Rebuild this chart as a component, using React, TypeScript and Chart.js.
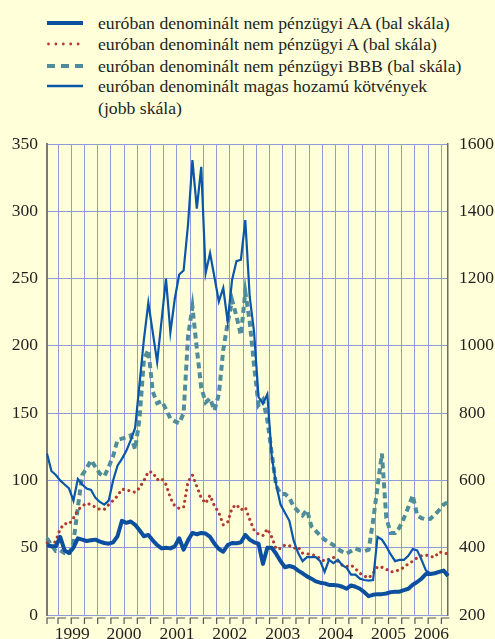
import React, { useEffect, useRef } from 'react';
import { Chart, registerables } from 'chart.js';

Chart.register(...registerables);

// Month categories: Jan 1999 – Aug 2006
const months: string[] = [];
for (let y = 1999; y <= 2006; y++) {
  for (let m = 1; m <= 12; m++) {
    if (y === 2006 && m > 8) break;
    months.push(`${y}-${String(m).padStart(2, '0')}`);
  }
}

const yearLabels = ['1999', '2000', '2001', '2002', '2003', '2004', '2005', '2006'];
const leftTicks = [0, 50, 100, 150, 200, 250, 300, 350];
const rightTicks = [200, 400, 600, 800, 1000, 1200, 1400, 1600];

// euróban denominált nem pénzügyi AA (bal skála)
const aaSpread = [
  52, 51, 51, 58, 48, 46, 50, 57, 56, 55, 55.5, 56,
  54.5, 53.5, 53, 54, 58.5, 70, 68.5, 69.5, 67, 63, 58.5, 59.5,
  55.5, 52, 49.5, 50, 49.5, 51, 57, 48.5, 55.5, 61, 60, 61,
  60.5, 58, 53, 49, 47, 52, 53.5, 53.3, 54, 59.5, 56, 54,
  53, 38, 50, 50, 45.5, 40, 35.5, 36.4, 35.5, 33, 31, 28.7,
  27, 25, 24, 23.5, 22.3, 22.3, 22, 21, 19.5, 22, 21, 19.5,
  17, 14, 15, 15.5, 15.5, 16, 17, 17.3, 17.3, 18.5, 19.5, 22.5,
  24.5, 27, 30.5, 30.5, 31, 32, 33, 29,
];

// euróban denominált nem pénzügyi A (bal skála)
const aSpread = [
  53.7, 51, 55, 64, 68, 67.5, 72, 78, 81, 83, 82, 80,
  78.5, 78.5, 82, 85, 88.5, 93.5, 93, 92, 91.2, 94.5, 100, 106.5,
  106, 100.5, 101.5, 97, 87, 81, 79.3, 80, 99, 104, 95.5, 87,
  83, 89, 81, 76, 67, 69, 79.5, 82, 78, 80, 71, 63,
  60, 59, 64, 58, 49, 49.5, 52, 51.5, 49.5, 50.5, 46, 45.5,
  45, 44, 42, 40, 41.5, 42.8, 40, 37, 36, 37, 34.5, 31,
  29, 27.5, 31, 35.9, 35.5, 34, 32, 32.5, 33.5, 35.5, 38, 40,
  42.5, 44, 44.5, 43.5, 43, 47, 46, 45.5,
];

// euróban denominált nem pénzügyi BBB (bal skála)
const bbbSpread = [
  57, 52, 47.5, 48, 46, 45, 54, 80, 104, 109, 115, 110,
  105, 103, 110, 118, 130, 131, 132, 133.5, 123, 146, 190, 197,
  166, 157.5, 159, 153, 146, 144, 142.5, 150, 207, 229, 198, 169,
  158, 161, 152, 164, 197, 217, 234, 222, 208, 240, 218, 185,
  156, 160, 145, 120, 96, 90, 90, 87, 80.5, 77, 74, 78,
  66, 62.5, 59, 56, 54, 52, 49, 47, 45.5, 47.5, 49.5, 48,
  47.5, 48.5, 70, 95, 120, 72, 61, 61, 65, 72, 80, 89,
  74, 72, 71, 71.5, 74.5, 78, 82, 84,
];

// euróban denominált magas hozamú kötvények (jobb skála)
const highYield = [
  680, 628, 616, 600, 588, 576, 540, 604, 588, 576, 572, 548,
  536, 528, 540, 600, 644, 664, 688, 720, 756, 888, 1020, 1128,
  1040, 952, 1076, 1200, 1040, 1140, 1212, 1224, 1360, 1552, 1408, 1532,
  1216, 1276, 1204, 1132, 1172, 1072, 1196, 1252, 1256, 1374, 1146, 1040,
  848, 828, 856, 672, 588, 528, 504, 480, 420, 384, 360, 372,
  372, 372, 360, 328, 364, 354, 364, 348, 340, 320, 320, 308,
  304, 302, 304, 432, 424, 404, 380, 360, 364, 364, 376, 396,
  392, 364, 332, 324, 324, 328, 332, 320,
];

const legendItems = [
  'euróban denominált nem pénzügyi AA (bal skála)',
  'euróban denominált nem pénzügyi A (bal skála)',
  'euróban denominált nem pénzügyi BBB (bal skála)',
  'euróban denominált magas hozamú kötvények',
  '(jobb skála)',
];

const BG = '#FFFFDA';
const GRID = '#8e9cdc';
const TEXT = '#231f20';
const AA_COLOR = '#0b4f9e';
const HY_COLOR = '#0a56a8';
const A_COLOR = '#b23a33';
const BBB_COLOR = '#4f8c9c';
const FONT_FAMILY = '"Liberation Serif", Tinos, "Times New Roman", Times, "Noto Serif", "DejaVu Serif", serif';

export default function App() {
  const ref = useRef<HTMLCanvasElement>(null);

  useEffect(() => {
    if (!ref.current) return;
    const last = months.length - 1;
    const yearCenters = yearLabels.map((y) => {
      const idx = months.map((m, i) => (m.startsWith(y) ? i : -1)).filter((i) => i >= 0);
      const lo = Math.max(idx[0] - 0.5, 0);
      const hi = Math.min(idx[idx.length - 1] + 0.5, last);
      return (lo + hi) / 2;
    });
    const quarterTicks = months
      .map((_, i) => i)
      .filter((i) => i > 0 && i % 3 === 0)
      .map((i) => i - 0.5);

    const font = { family: FONT_FAMILY, size: 17.5 };

    const quarterMarks = {
      id: 'quarterMarks',
      afterDraw(chart: any) {
        const s = chart.scales.xq;
        const ctx = chart.ctx;
        const y0 = chart.chartArea.bottom + 3;
        const xs = [chart.chartArea.left, ...quarterTicks.map((v) => s.getPixelForValue(v))];
        ctx.save();
        ctx.strokeStyle = '#555';
        ctx.lineWidth = 1.2;
        xs.forEach((x) => {
          ctx.beginPath();
          ctx.moveTo(x, y0 + 6);
          ctx.lineTo(x, y0);
          ctx.lineTo(x + 8, y0);
          ctx.stroke();
        });
        ctx.restore();
      },
    };

    const chart = new Chart(ref.current, {
      type: 'line',
      data: {
        labels: months,
        datasets: [
          {
            label: legendItems[0],
            data: aaSpread,
            xAxisID: 'x',
            yAxisID: 'y',
            borderColor: AA_COLOR,
            borderWidth: 4,
            borderJoinStyle: 'round',
            pointRadius: 0,
            order: 0,
          },
          {
            label: legendItems[3],
            data: highYield,
            xAxisID: 'x',
            yAxisID: 'y1',
            borderColor: HY_COLOR,
            borderWidth: 2.2,
            pointRadius: 0,
            order: 1,
          },
          {
            label: legendItems[1],
            data: aSpread,
            xAxisID: 'x',
            yAxisID: 'y',
            borderColor: A_COLOR,
            borderWidth: 3.1,
            borderDash: [0.01, 5.6],
            borderCapStyle: 'round',
            pointRadius: 0,
            order: 2,
          },
          {
            label: legendItems[2],
            data: bbbSpread,
            xAxisID: 'x',
            yAxisID: 'y',
            borderColor: BBB_COLOR,
            borderWidth: 4,
            borderDash: [6, 4],
            pointRadius: 0,
            order: 3,
          },
        ],
      },
      options: {
        animation: false,
        responsive: false,
        maintainAspectRatio: false,
        layout: { padding: { top: 144, left: 0, right: 0, bottom: 0 } },
        plugins: { legend: { display: false }, tooltip: { enabled: false } },
        elements: { line: { tension: 0 }, point: { radius: 0 } },
        scales: {
          x: { type: 'category', display: false },
          xq: {
            type: 'linear',
            position: 'bottom',
            min: 0,
            max: last,
            weight: 0,
            afterBuildTicks: (s: any) => {
              s.ticks = quarterTicks.map((v) => ({ value: v }));
            },
            afterFit: (s: any) => {
              s.height = 9;
            },
            grid: { color: GRID, lineWidth: 1, drawTicks: false },
            border: { display: false },
            ticks: { display: false, autoSkip: false },
          },
          xy: {
            type: 'linear',
            position: 'bottom',
            min: 0,
            max: last,
            weight: 1,
            afterBuildTicks: (s: any) => {
              s.ticks = yearCenters.map((v) => ({ value: v }));
            },
            afterFit: (s: any) => {
              s.height = 15;
            },
            grid: { display: false, drawTicks: false },
            border: { display: false },
            ticks: {
              autoSkip: false,
              maxRotation: 0,
              padding: 0,
              font,
              color: TEXT,
              callback: (_v: any, i: number) => yearLabels[i],
            },
          },
          y: {
            position: 'left',
            min: leftTicks[0],
            max: leftTicks[leftTicks.length - 1],
            afterBuildTicks: (s: any) => {
              s.ticks = leftTicks.map((v) => ({ value: v }));
            },
            afterFit: (s: any) => {
              s.width = 47;
            },
            ticks: { padding: 9, font, color: TEXT, callback: (v: any) => String(v) },
            grid: { color: GRID, lineWidth: 1, drawTicks: false },
            border: { color: '#7a7a7a', width: 2 },
          },
          y1: {
            position: 'right',
            min: rightTicks[0],
            max: rightTicks[rightTicks.length - 1],
            afterBuildTicks: (s: any) => {
              s.ticks = rightTicks.map((v) => ({ value: v }));
            },
            afterFit: (s: any) => {
              s.width = 47;
            },
            ticks: { padding: 11, font, color: TEXT, callback: (v: any) => String(v) },
            grid: { drawOnChartArea: false, drawTicks: false },
            border: { color: '#6f6a60', width: 1.5 },
          },
        },
      },
      plugins: [quarterMarks],
    } as any);

    return () => chart.destroy();
  }, []);

  const row: React.CSSProperties = {
    position: 'absolute',
    left: 47,
    display: 'flex',
    alignItems: 'center',
    height: 21,
  };
  const textStyle: React.CSSProperties = {
    fontFamily: FONT_FAMILY,
    fontSize: 17.7,
    color: TEXT,
    marginLeft: 15,
    whiteSpace: 'nowrap',
    lineHeight: '22px',
  };

  return (
    <div style={{ position: 'fixed', left: 0, top: 0, width: 495, height: 639, background: BG, overflow: 'hidden' }}>
      <div style={{ ...row, top: 12 }}>
        <svg width={36} height={10}>
          <line x1={0} x2={36} y1={5} y2={5} stroke={AA_COLOR} strokeWidth={4} />
        </svg>
        <span style={textStyle}>{legendItems[0]}</span>
      </div>
      <div style={{ ...row, top: 33 }}>
        <svg width={36} height={10}>
          <line x1={1.5} x2={36} y1={5} y2={5} stroke={A_COLOR} strokeWidth={2.8} strokeDasharray="0.01 7.4" strokeLinecap="round" />
        </svg>
        <span style={textStyle}>{legendItems[1]}</span>
      </div>
      <div style={{ ...row, top: 55 }}>
        <svg width={36} height={10}>
          <line x1={0} x2={36} y1={5} y2={5} stroke={BBB_COLOR} strokeWidth={4} strokeDasharray="8 6" />
        </svg>
        <span style={textStyle}>{legendItems[2]}</span>
      </div>
      <div style={{ ...row, top: 75, alignItems: 'flex-start', height: 44 }}>
        <svg width={36} height={22}>
          <line x1={0} x2={36} y1={11} y2={11} stroke={HY_COLOR} strokeWidth={2.5} />
        </svg>
        <span style={textStyle}>
          {legendItems[3]}
          <br />
          {legendItems[4]}
        </span>
      </div>
      <canvas ref={ref} width={495} height={639} style={{ position: 'absolute', left: 0, top: 0, width: 495, height: 639 }} />
    </div>
  );
}
